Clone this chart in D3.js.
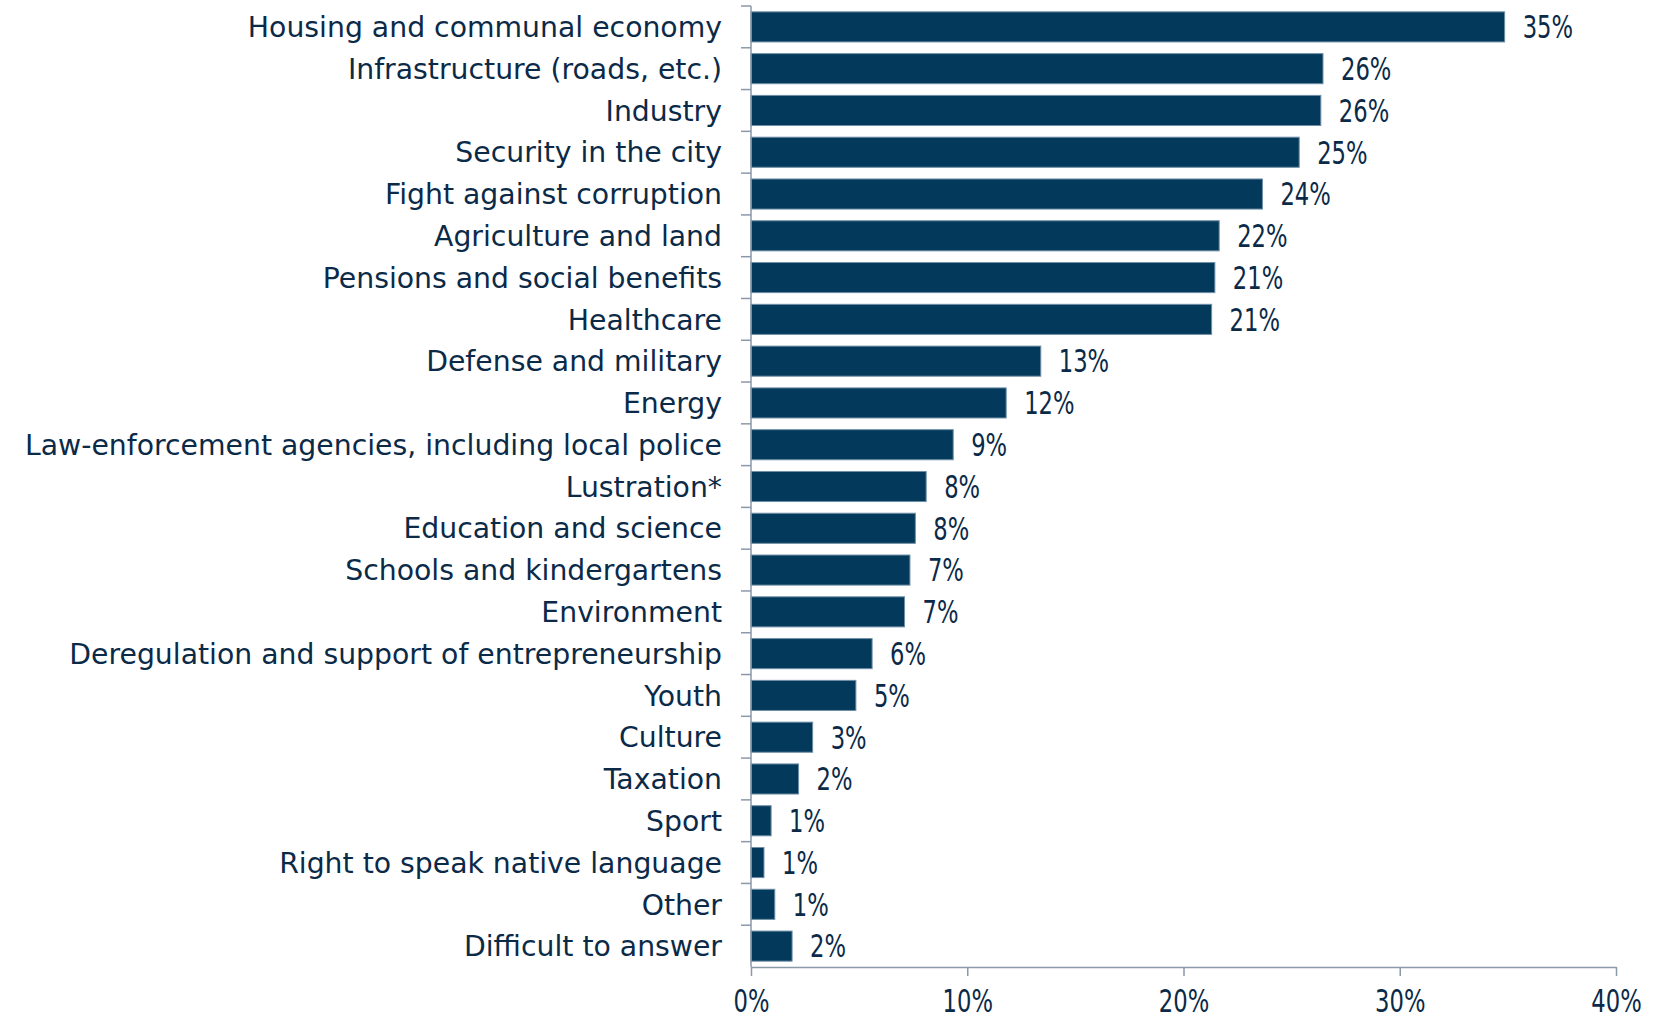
<!DOCTYPE html>
<html><head><meta charset="utf-8">
<script src="https://cdn.jsdelivr.net/npm/d3@7"></script>
<style>
html,body{margin:0;padding:0;background:#fff;}
svg text{fill:#0b2a48;}
</style></head>
<body>
<svg id="chart" width="1662" height="1022"></svg>
<script>
const categories = [
  "Housing and communal economy",
  "Infrastructure (roads, etc.) ",
  "Industry",
  "Security in the city",
  "Fight against corruption",
  "Agriculture and land",
  "Pensions and social benefits",
  "Healthcare",
  "Defense and military",
  "Energy",
  "Law-enforcement agencies, including local police",
  "Lustration*",
  "Education and science",
  "Schools and kindergartens",
  "Environment",
  "Deregulation and support of entrepreneurship",
  "Youth",
  "Culture",
  "Taxation",
  "Sport",
  "Right to speak native language",
  "Other",
  "Difficult to answer"
];
const values = [34.85, 26.45, 26.35, 25.35, 23.65, 21.65, 21.45, 21.3, 13.4, 11.8, 9.35, 8.1, 7.6, 7.35, 7.1, 5.6, 4.85, 2.85, 2.2, 0.93, 0.6, 1.1, 1.9];
const valueLabels = ["35%","26%","26%","25%","24%","22%","21%","21%","13%","12%","9%","8%","8%","7%","7%","6%","5%","3%","2%","1%","1%","1%","2%"];
const xTicks = [0, 10, 20, 30, 40];
const xTickLabels = ["0%","10%","20%","30%","40%"];

(function () {
const svg = d3.select("#chart");
const mLeft = 751, mRight = 1616, mTop = 6, mBottom = 967;
const catFont = '"DejaVu Sans",sans-serif';
const numFont = '"DejaVu Sans Condensed","DejaVu Sans",sans-serif';
const numSize = 31.5, numSquash = 0.8;

const x = d3.scaleLinear().domain([0, 40]).range([mLeft, mRight]);
const y = d3.scaleBand().domain(categories).range([mTop, mBottom]).paddingInner(0.28).paddingOuter(0.14);

function squash(sel) {
  sel.each(function () {
    const len = this.getComputedTextLength();
    d3.select(this).attr("textLength", len * numSquash).attr("lengthAdjust", "spacingAndGlyphs");
  });
}

svg.append("g").selectAll("rect").data(categories).join("rect")
  .attr("x", x(0))
  .attr("y", d => y(d))
  .attr("width", (d, i) => x(values[i]) - x(0))
  .attr("height", y.bandwidth())
  .attr("fill", "#033a5b")
  .attr("stroke", "#6f8ea6")
  .attr("stroke-width", 1);

svg.append("g").selectAll("text").data(categories).join("text")
  .attr("x", (d, i) => x(values[i]) + 18)
  .attr("y", d => y(d) + y.bandwidth() / 2)
  .attr("dy", "0.36em")
  .attr("font-family", numFont)
  .attr("font-size", numSize)
  .text((d, i) => valueLabels[i])
  .call(squash);

svg.append("g").selectAll("text").data(categories).join("text")
  .attr("x", mLeft - 29)
  .attr("y", d => y(d) + y.bandwidth() / 2)
  .attr("dy", "0.36em")
  .attr("text-anchor", "end")
  .attr("font-family", catFont)
  .attr("font-size", 28.3)
  .text(d => d.trim());

const axisColor = "#8a99a8";
const step = y.step();
const gy = svg.append("g");
gy.append("line").attr("x1", mLeft).attr("x2", mLeft).attr("y1", mTop).attr("y2", mBottom)
  .attr("stroke", axisColor).attr("stroke-width", 1.5);
gy.selectAll("line.t").data(d3.range(categories.length)).join("line").attr("class", "t")
  .attr("x1", mLeft - 10).attr("x2", mLeft)
  .attr("y1", i => y(categories[i]) - y.paddingInner() * step / 2)
  .attr("y2", i => y(categories[i]) - y.paddingInner() * step / 2)
  .attr("stroke", axisColor).attr("stroke-width", 1.5);

const gx = svg.append("g").attr("transform", `translate(0,${mBottom})`)
  .call(d3.axisBottom(x).tickValues(xTicks).tickSize(9).tickSizeOuter(0)
    .tickFormat((d, i) => xTickLabels[i]));
gx.selectAll("path, line").attr("stroke", axisColor).attr("stroke-width", 1.5);
gx.selectAll("text").attr("font-size", numSize).attr("dy", "1.0em").attr("y", 13)
  .attr("font-family", numFont).attr("fill", "#0b2a48")
  .call(squash);
})();
</script>
</body></html>
